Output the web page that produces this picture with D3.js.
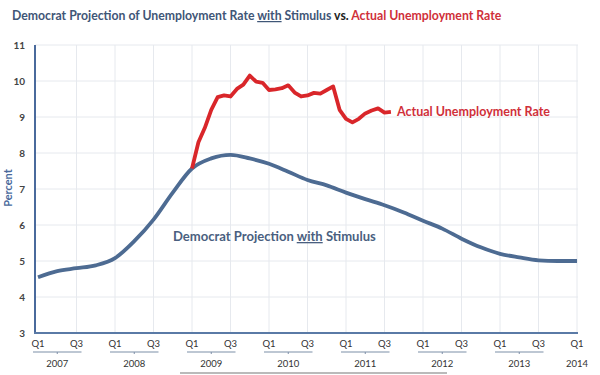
<!DOCTYPE html>
<html>
<head>
<meta charset="utf-8">
<script src="https://cdn.jsdelivr.net/npm/d3@7"></script>
<style>
  body { margin: 0; background: #fff; }
  svg { display: block; font-family: Lato, "Open Sans", sans-serif; }
</style>
</head>
<body>
<svg id="chart" width="600" height="375"></svg>
<script>
// quarterly projection, Q1 2007 .. Q1 2014
var projection = [4.55, 4.72, 4.8, 4.88, 5.08, 5.55, 6.15, 6.9, 7.57, 7.85, 7.95, 7.85,
    7.7, 7.48, 7.25, 7.1, 6.9, 6.72, 6.55, 6.35, 6.12, 5.9, 5.62, 5.38, 5.2, 5.1, 5.02, 5.0, 5.0];
// monthly actual rate, Jan 2009 .. Aug 2011
var actual = [7.57, 8.3, 8.7, 9.2, 9.55, 9.6, 9.57, 9.78, 9.9, 10.15, 9.98, 9.95,
    9.75, 9.77, 9.8, 9.88, 9.68, 9.57, 9.6, 9.67, 9.65, 9.75, 9.85, 9.2,
    8.95, 8.85, 8.95, 9.1, 9.18, 9.24, 9.12, 9.14];
var years = ["2007", "2008", "2009", "2010", "2011", "2012", "2013", "2014"];
var yTicks = [3, 4, 5, 6, 7, 8, 9, 10, 11];

var svg = d3.select("#chart");

var x = d3.scaleLinear().domain([0, 28]).range([38, 577]);
var y = d3.scaleLinear().domain([3, 11]).range([333, 45]);

//grid
svg.append("g").selectAll("line")
    .data(yTicks.slice(1))
    .enter().append("line")
    .attr("x1", 35).attr("x2", 578)
    .attr("y1", function (d) { return y(d); })
    .attr("y2", function (d) { return y(d); })
    .attr("stroke", "#e6e9ee").attr("stroke-width", 1);

svg.append("g").selectAll("line")
    .data(d3.range(2, 29, 2))
    .enter().append("line")
    .attr("x1", function (d) { return x(d); })
    .attr("x2", function (d) { return x(d); })
    .attr("y1", 45).attr("y2", 333)
    .attr("stroke", "#e6e9ee").attr("stroke-width", 1);

//axes
svg.append("line").attr("x1", 35).attr("x2", 35).attr("y1", 45).attr("y2", 334)
    .attr("stroke", "#4a6a9c").attr("stroke-width", 2);
svg.append("line").attr("x1", 34).attr("x2", 578).attr("y1", 333).attr("y2", 333)
    .attr("stroke", "#5a7aa6").attr("stroke-width", 2);

svg.append("g").selectAll("text")
    .data(yTicks)
    .enter().append("text")
    .text(function (d) { return d; })
    .attr("x", 25)
    .attr("y", function (d) { return y(d) + 4; })
    .attr("text-anchor", "end")
    .style("font-size", "10px").style("font-weight", "bold").style("fill", "#444");

svg.append("text")
    .text("Percent")
    .attr("transform", "translate(12,188) rotate(-90)")
    .attr("text-anchor", "middle")
    .style("font-size", "11px").style("font-weight", "bold").style("fill", "#4a6a9c");

//quarter labels and year brackets
var qLabels = svg.append("g");
years.forEach(function (yr, i) {
    var q1 = i * 4;
    qLabels.append("text").text("Q1").attr("x", x(q1)).attr("y", 347)
        .attr("text-anchor", "middle")
        .style("font-size", "9.5px").style("fill", "#333");
    if (i < years.length - 1) {
        qLabels.append("text").text("Q3").attr("x", x(q1 + 2)).attr("y", 347)
            .attr("text-anchor", "middle")
            .style("font-size", "9.5px").style("fill", "#333");
        qLabels.append("line")
            .attr("x1", x(q1) - 5).attr("x2", x(q1 + 2) + 5)
            .attr("y1", 352).attr("y2", 352)
            .attr("stroke", "#7d8fa8").attr("stroke-width", 1.2);
        qLabels.append("line")
            .attr("x1", x(q1 + 1)).attr("x2", x(q1 + 1))
            .attr("y1", 352).attr("y2", 354)
            .attr("stroke", "#7d8fa8").attr("stroke-width", 1);
    }
    qLabels.append("text").text(yr)
        .attr("x", i < years.length - 1 ? x(q1 + 1) : x(q1))
        .attr("y", 367)
        .attr("text-anchor", "middle")
        .style("font-size", "9.5px").style("fill", "#333");
});

svg.append("line").attr("x1", 180).attr("x2", 447).attr("y1", 373).attr("y2", 373)
    .attr("stroke", "#777").attr("stroke-width", 1.2);

//lines
var projLine = d3.line()
    .x(function (d, i) { return x(i); })
    .y(function (d) { return y(d); })
    .curve(d3.curveMonotoneX);

svg.append("path")
    .attr("d", projLine(projection))
    .attr("fill", "none")
    .attr("stroke", "#4d6b92")
    .attr("stroke-width", 3.8);

var actLine = d3.line()
    .x(function (d, i) { return x(8 + i / 3); })
    .y(function (d) { return y(d); });

svg.append("path")
    .attr("d", actLine(actual))
    .attr("fill", "none")
    .attr("stroke", "#d9262a")
    .attr("stroke-width", 3.8)
    .attr("stroke-linejoin", "round");

//labels
svg.append("text").text("Actual Unemployment Rate")
    .attr("x", 397).attr("y", 116)
    .style("font-size", "12.5px").style("font-weight", "bold").style("fill", "#d0303a");

var proj = svg.append("text").attr("x", 173).attr("y", 241)
    .style("font-size", "12.5px").style("font-weight", "bold").style("fill", "#4a5f80");
proj.append("tspan").text("Democrat Projection ");
proj.append("tspan").text("with").style("text-decoration", "underline");
proj.append("tspan").text(" Stimulus");

var title = svg.append("text").attr("x", 12).attr("y", 20)
    .style("font-size", "13px").style("font-weight", "bold");
title.append("tspan").text("Democrat Projection of Unemployment Rate ").style("fill", "#3f5677");
title.append("tspan").text("with").style("fill", "#3f5677").style("text-decoration", "underline");
title.append("tspan").text(" Stimulus ").style("fill", "#3f5677");
title.append("tspan").text("vs. ").style("fill", "#222");
title.append("tspan").text("Actual Unemployment Rate").style("fill", "#d0303a");

// fit title width to the original
var w = title.node().getComputedTextLength();
title.style("font-size", (13 * 490 / w) + "px");
var w2 = proj.node().getComputedTextLength();
proj.style("font-size", (12.5 * 203 / w2) + "px");
</script>
</body>
</html>
